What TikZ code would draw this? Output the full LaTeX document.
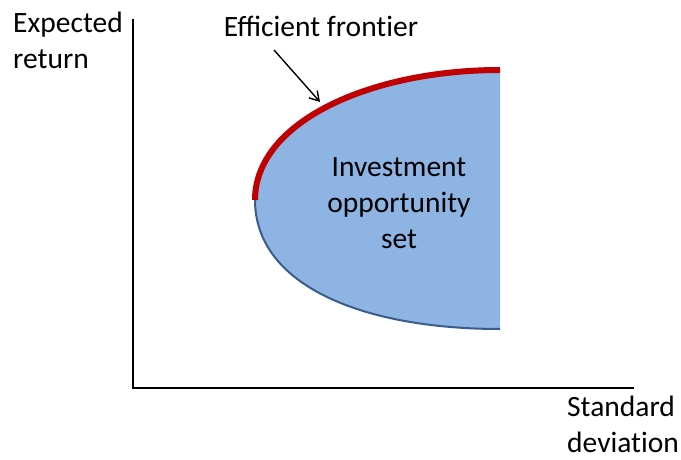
\documentclass[tikz,border=0pt]{standalone}
\usepackage{fontspec}
\setmainfont{Carlito}
\definecolor{setblue}{RGB}{142, 180, 227}
\definecolor{edgeblue}{RGB}{56, 93, 138}
\definecolor{frontred}{RGB}{192, 0, 0}
\usetikzlibrary{arrows.meta, positioning, calc}

\begin{document}
\begin{tikzpicture}[x=1pt, y=-1pt,
    lbl/.style={font=\fontsize{29.5}{36}\selectfont, inner sep=0pt, align=left},
    pointer/.style={-{Straight Barb[length=9pt, width=11pt]}, line width=1.4pt}]
  \useasboundingbox (0, 0) rectangle (681, 460);

  % Axes
  \draw[line width=1.5pt] (133, 19) -- (133, 388) -- (634, 388);
  \node[lbl, anchor=north west] (yaxis) at (13, 12) {Expected\\return};
  \node[lbl, anchor=north west] (xaxis) at (567, 396) {Standard\\deviat\kern0pt ion};

  % Opportunity set
  \fill[setblue] (255, 200) .. controls (255, 122) and (370, 70) .. (500, 70)
    -- (500, 329) .. controls (362, 329) and (255, 285) .. (255, 200) -- cycle;
  \draw[edgeblue, line width=2pt] (255, 200) .. controls (255, 285) and (362, 329) .. (500, 329);
  \draw[frontred, line width=6pt] (255, 200) .. controls (255, 122) and (370, 70) .. (500, 70);
  \node[lbl, align=center] (oppset) at (399, 203) {Investment\\opportunity\\set};

  % Frontier label
  \node[lbl] (frontier) at (321, 26) {Efficient front\kern0pt ier};
  \coordinate (tail) at (274, 50);
  \coordinate (tip) at (320, 102);
  \draw[pointer] (tail) -- (tip);
\end{tikzpicture}
\end{document}
